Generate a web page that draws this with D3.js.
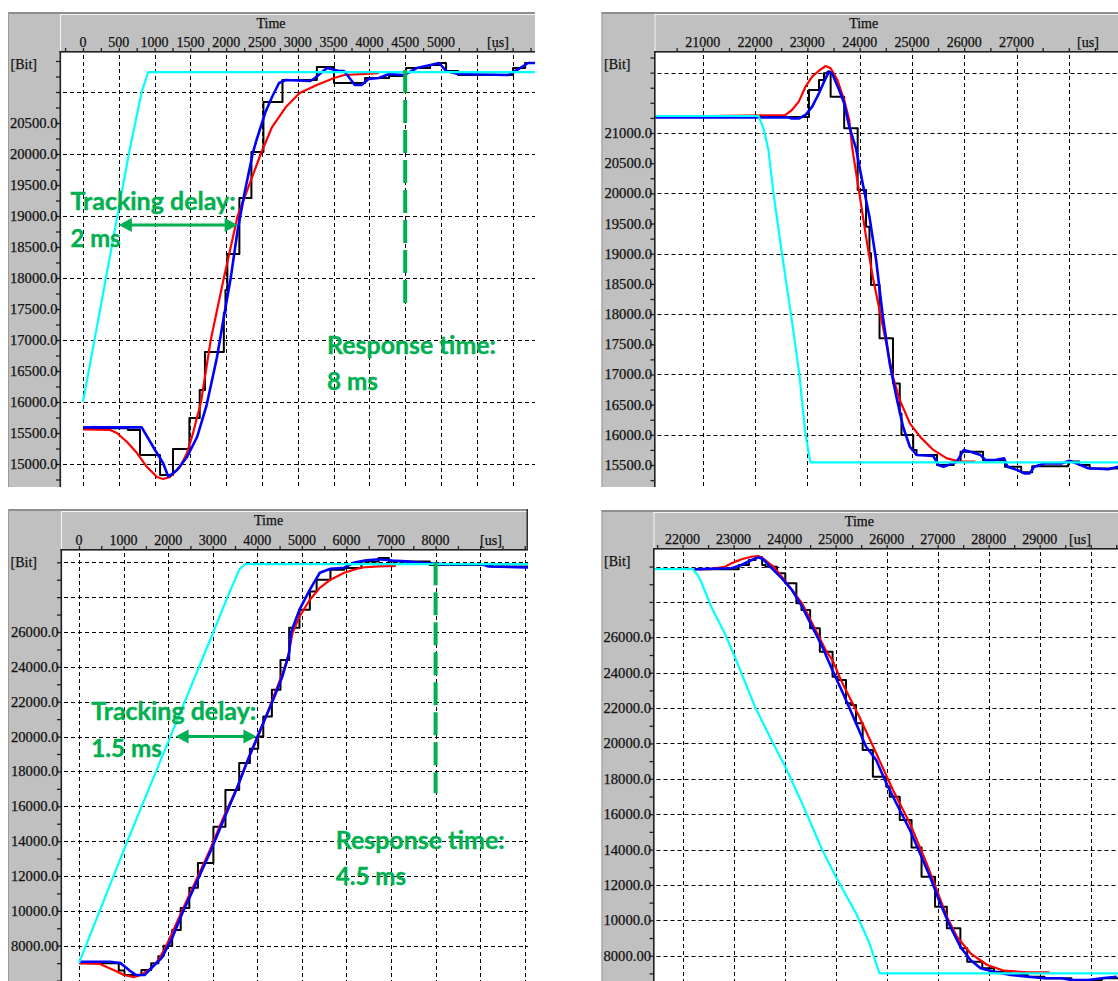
<!DOCTYPE html>
<html><head><meta charset="utf-8">
<script src="https://cdn.jsdelivr.net/npm/d3@7"></script>
<style>body{margin:0;background:#fff}svg{display:block}</style>
</head><body>
<script>
// ---------------- DATA ----------------
// Panel 1 (top-left): time [us], position [Bit]
const p1XLabels = [0,500,1000,1500,2000,2500,3000,3500,4000,4500,5000];
const p1YLabels = [15000,15500,16000,16500,17000,17500,18000,18500,19000,19500,20000,20500];
const p1Cyan = [[0,16000],[650,20060],[820,21000],[910,21320],[6400,21320]];
const p1Red = [[0,15560],[377,15548],[475,15500],[615,15355],[754,15177],[894,14951],[1034,14790],[1118,14758],[1215,14790],[1355,14951],[1453,15177],[1537,15500],[1648,16000],[1784,17000],[1967,18000],[2160,19000],[2482,20000],[2640,20435],[2833,20758],[3026,20984],[3266,21113],[3506,21226],[3652,21274],[4132,21306]];
const p1Blue = [[0,15590],[820,15590],[1006,15226],[1118,15016],[1192,14795],[1313,14903],[1453,15113],[1593,15435],[1727,15951],[1872,16726],[1967,17371],[2063,18000],[2160,18774],[2256,19371],[2375,20032],[2424,20226],[2543,20661],[2640,20919],[2738,21145],[2833,21194],[3171,21177],[3241,21226],[3339,21323],[3409,21387],[3576,21339],[3646,21339],[3723,21226],[3796,21113],[3892,21113],[3988,21210],[4132,21226],[4275,21290],[4470,21274],[4565,21323],[4662,21387],[4853,21436],[4973,21468],[5071,21339],[5239,21290],[5937,21274],[6105,21387],[6217,21468],[6400,21468]];
const p1Black = [[0,15575],[629,15550],[796,15145],[1076,14823],[1257,15242],[1486,15742],[1630,16193],[1703,16806],[1967,17435],[1990,17806],[2016,18387],[2184,19290],[2352,20032],[2520,20839],[2786,21194],[3266,21403],[3506,21145],[3940,21226],[4275,21258],[4512,21387],[4848,21436],[4998,21468],[5071,21339],[5239,21274],[6007,21387],[6175,21468],[6400,21468]];
const p1Delay = [500, 2160, 18855];      // from t, to t, level
const p1Response = [4500, 21355, 17580]; // t, from level, to level

// Panel 2 (top-right)
const p2XLabels = [21000,22000,23000,24000,25000,26000,27000];
const p2YLabels = [15500,16000,16500,17000,17500,18000,18500,19000,19500,20000,20500,21000];
const p2Cyan = [[20000,21282],[22063,21282],[22159,21083],[22256,20718],[22352,20000],[22512,19012],[22686,18000],[22847,17000],[22964,16000],[23059,15545],[30000,15545]];
const p2Red = [[20000,21268],[22577,21298],[22705,21381],[22836,21519],[22964,21767],[23092,21933],[23222,22032],[23350,22110],[23445,22072],[23575,21878],[23704,21547],[23801,21215],[23864,20718],[23994,20000],[24122,19282],[24250,18619],[24380,18067],[24509,17515],[24637,16962],[24767,16576],[24960,16190],[25153,15970],[25409,15750],[25667,15610],[25925,15555],[26214,15555]];
const p2Blue = [[20000,21258],[22641,21258],[22705,21240],[22836,21240],[22964,21298],[23092,21436],[23222,21658],[23350,21906],[23413,22016],[23478,21977],[23608,21712],[23704,21492],[23801,21104],[23929,20750],[24057,20166],[24187,19613],[24315,18896],[24444,17956],[24574,17184],[24702,16631],[24830,16134],[24960,15802],[25088,15665],[25409,15648],[25507,15500],[25602,15470],[25860,15555],[25988,15747],[26118,15720],[26312,15665],[26407,15580],[26568,15580],[26761,15610],[26826,15470],[27019,15415],[27147,15360],[27245,15360],[27340,15470],[27533,15525],[27856,15525],[28017,15570],[28178,15515],[28371,15445],[28757,15430],[28939,15470],[29900,15470]];
const p2Black = [[20000,21265],[23030,21712],[23222,21878],[23318,21989],[23383,22016],[23445,21602],[23704,21078],[23962,20055],[24122,19448],[24187,19006],[24218,18481],[24380,17598],[24637,16852],[24767,16355],[24800,15996],[25024,15747],[25088,15665],[25480,15500],[25800,15555],[25930,15720],[26360,15580],[26780,15470],[27090,15380],[27300,15480],[27990,15560],[28200,15500],[28400,15440],[29900,15440]];

// Panel 3 (bottom-left)
const p3XLabels = [0,1000,2000,3000,4000,5000,6000,7000,8000];
const p3YLabels = [8000,10000,12000,14000,16000,18000,20000,22000,24000,26000];
const p3Cyan = [[0,7000],[1085,14000],[2050,20000],[3015,26000],[3330,28000],[3600,29600],[3730,29900],[10500,29900]];
const p3Red = [[0,7000],[469,6950],[776,6607],[1009,6320],[1240,6200],[1394,6320],[1625,6722],[1780,7180],[1935,7870],[2090,8730],[2320,10050],[2630,11777],[2937,13500],[3246,15400],[3556,17120],[3789,18670],[4020,20000],[4251,21530],[4484,23080],[4675,24400],[4791,25960],[4946,26880],[5179,27850],[5403,28530],[5641,29000],[5950,29400],[6336,29700],[6722,29760],[7107,29790]];
const p3Blue = [[0,7080],[699,7080],[930,7000],[1121,6600],[1278,6320],[1471,6320],[1625,6720],[1856,7300],[2090,8440],[2320,9880],[2630,11600],[2937,13330],[3246,15230],[3556,17120],[3789,18670],[4020,20100],[4327,21930],[4560,23430],[4715,24800],[4753,25960],[4946,27280],[5179,28430],[5403,29400],[5641,29630],[5950,29690],[6181,29990],[6412,30100],[6722,30170],[7031,30100],[7331,30050],[7802,29940],[8266,29890],[9035,29890],[9192,29760],[10044,29700],[10500,29700]];
const p3Black = [[0,7000],[892,6580],[1020,6320],[1400,6600],[1620,7000],[1780,7400],[1897,8000],[2090,8900],[2282,10170],[2475,11320],[2668,12750],[3015,14820],[3285,16940],[3594,18490],[3834,19300],[4020,20000],[4134,21150],[4327,22680],[4520,24400],[4715,26250],[4946,27270],[5179,28320],[5331,29000],[5641,29570],[5950,29670],[6336,30040],[6722,30240],[6950,30040],[7870,29850],[9260,29760],[10500,29760]];
const p3Delay = [2166, 3980, 20000];
const p3Response = [8000, 30000, 16750];

// Panel 4 (bottom-right)
const p4XLabels = [22000,23000,24000,25000,26000,27000,28000,29000];
const p4YLabels = [8000,10000,12000,14000,16000,18000,20000,22000,24000,26000];
const p4Cyan = [[21400,29850],[22198,29850],[22296,29520],[22363,29142],[22561,27729],[22825,26226],[23023,24902],[23419,22076],[23782,19950],[24013,18684],[24342,16615],[24738,13975],[25003,12466],[25399,10396],[25663,8700],[25861,7005],[30600,7005]];
const p4Red = [[22231,29850],[22527,29850],[22825,29990],[22956,30180],[23154,30410],[23352,30555],[23486,30595],[23617,30370],[23782,29990],[23946,29425],[24144,28673],[24342,27920],[24540,26790],[24738,25660],[24805,25280],[24936,24716],[25134,23398],[25465,21511],[25795,19442],[26124,17368],[26455,15485],[26784,13223],[26982,11714],[27180,10205],[27378,9074],[27643,8136],[27972,7474],[28301,7152],[28764,7061],[29193,7061]];
const p4Blue = [[22231,29843],[22956,29900],[23154,30086],[23352,30370],[23486,30520],[23584,30408],[23684,30086],[23848,29617],[23946,29335],[24144,28673],[24342,27730],[24540,26600],[24738,25468],[24936,24150],[25203,22455],[25399,21137],[25597,19815],[25795,19063],[25993,17746],[26257,16237],[26455,15106],[26653,13789],[26851,12466],[27049,10962],[27247,9639],[27445,8509],[27643,7757],[27841,7288],[28104,7096],[28435,6909],[28764,6813],[29093,6722],[29424,6722],[29622,6626],[29952,6626],[30217,6722],[30512,6813]];
const p4Black = [[22231,29843],[23100,30086],[23300,30370],[23430,30520],[23560,30086],[23625,29990],[23850,29617],[24013,29050],[24230,27920],[24330,27543],[24500,26508],[24690,25185],[24940,23772],[25040,23586],[25203,22268],[25300,22172],[25399,21137],[25530,19630],[25730,18119],[25993,17553],[26060,16988],[26257,15671],[26488,14120],[26684,12466],[26949,10770],[27180,9549],[27445,8418],[27580,7660],[27875,7288],[28104,7096],[28435,6909],[28764,6813],[29093,6722],[29622,6626],[30217,6722],[30600,6722]];

// ---------------- DRAWING ----------------
const SERIF = "'Liberation Serif','Times New Roman',serif";
const GREEN = "#00b050";
const svg = d3.select("body").append("svg").attr("width",1118).attr("height",981);
const defs = svg.append("defs");

function serifText(sel, size){
  return sel.attr("font-family",SERIF).attr("font-size",size).attr("fill","#111")
    .attr("stroke","#111").attr("stroke-width",0.25);
}

function drawPanel(p){
  const f = p.frame;
  const x = d3.scaleLinear().domain(p.xd).range(p.xr);
  const y = d3.scaleLinear().domain(p.yd).range(p.yr);
  const g = svg.append("g");
  // frame background
  g.append("rect").attr("x",f.l).attr("y",f.t).attr("width",f.r-f.l).attr("height",f.b-f.t).attr("fill","#c0c0c0");
  g.append("rect").attr("x",f.pl).attr("y",f.pt).attr("width",f.r-f.pl).attr("height",f.b-f.pt).attr("fill","#ffffff");
  g.append("rect").attr("x",f.l).attr("y",f.t).attr("width",f.r-f.l).attr("height",2).attr("fill","#8e8e8e");
  g.append("rect").attr("x",f.l).attr("y",f.t).attr("width",1).attr("height",f.b-f.t).attr("fill","#9a9a9a");
  g.append("rect").attr("x",f.pl).attr("y",f.t+2).attr("width",f.r-f.pl).attr("height",1).attr("fill","#f4f4f4");
  g.append("rect").attr("x",f.pl).attr("y",f.t+2).attr("width",1).attr("height",f.pt-f.t-2).attr("fill","#f4f4f4");
  if (p.rightBorder) g.append("rect").attr("x",f.r-1.5).attr("y",f.t).attr("width",1.5).attr("height",f.pt-f.t).attr("fill","#303030");

  // clip
  const cid = "clip"+p.id;
  defs.append("clipPath").attr("id",cid).append("rect")
    .attr("x",f.pl+1).attr("y",f.pt+1).attr("width",f.r-f.pl-1).attr("height",f.b-f.pt-1);
  const pg = g.append("g").attr("clip-path",`url(#${cid})`);

  // grid
  const inX = v => x(v) > f.pl+1 && x(v) < f.r;
  const inY = v => y(v) > f.pt+1 && y(v) < f.b+1;
  pg.selectAll("line.gx").data(p.xGrid.filter(inX)).join("line")
    .attr("x1",d=>Math.round(x(d))+0.5).attr("x2",d=>Math.round(x(d))+0.5)
    .attr("y1",f.pt+3).attr("y2",f.b)
    .attr("stroke","#000").attr("stroke-width",1).attr("stroke-dasharray","4,3");
  pg.selectAll("line.gy").data(p.yGrid.filter(inY)).join("line")
    .attr("y1",d=>Math.round(y(d))+0.5).attr("y2",d=>Math.round(y(d))+0.5)
    .attr("x1",f.pl+3).attr("x2",f.r)
    .attr("stroke","#000").attr("stroke-width",1).attr("stroke-dasharray","4,3");

  // series
  const ln = d3.line().x(d=>x(d[0])).y(d=>y(d[1]));
  const lnStep = d3.line().x(d=>x(d[0])).y(d=>y(d[1])).curve(d3.curveStepAfter);
  pg.append("path").datum(p.black).attr("d",lnStep).attr("fill","none").attr("stroke","#000").attr("stroke-width",2).attr("stroke-linejoin","round");
  pg.append("path").datum(p.red).attr("d",ln).attr("fill","none").attr("stroke","#ff0000").attr("stroke-width",2.2).attr("stroke-linejoin","round");
  pg.append("path").datum(p.blue).attr("d",ln).attr("fill","none").attr("stroke","#0000ff").attr("stroke-width",2.6).attr("stroke-linejoin","round");
  pg.append("path").datum(p.cyan).attr("d",ln).attr("fill","none").attr("stroke","#00ffff").attr("stroke-width",2.2).attr("stroke-linejoin","round");

  // axes (tick marks)
  const xt = g.append("g").attr("transform",`translate(0,${f.pt})`)
    .call(d3.axisTop(x).tickValues(p.xMinor.filter(v=>x(v)>f.pl+2 && x(v)<f.r-1)).tickSize(4).tickFormat(""));
  xt.select(".domain").remove();
  xt.selectAll("line").attr("stroke","#202020").attr("stroke-width",1.3);
  const yt = g.append("g").attr("transform",`translate(${f.pl},0)`)
    .call(d3.axisLeft(y).tickValues(p.yMinor.filter(v=>y(v)>f.pt+2 && y(v)<f.b)).tickSize(4).tickFormat(""));
  yt.select(".domain").remove();
  yt.selectAll("line").attr("stroke","#202020").attr("stroke-width",1.3);
  g.append("rect").attr("x",f.pl-0.5).attr("y",f.pt-1).attr("width",f.r-f.pl+0.5).attr("height",1.6).attr("fill","#202020");
  g.append("rect").attr("x",f.pl-0.5).attr("y",f.pt-1).attr("width",1.6).attr("height",f.b-f.pt+1).attr("fill","#202020");

  // header texts
  serifText(g.append("text").attr("x",p.timeX).attr("y",f.t+15.5).attr("text-anchor","middle"),14).text("Time");
  serifText(g.selectAll("text.xl").data(p.xLabels).join("text")
    .attr("x",d=>x(d)).attr("y",f.pt-5).attr("text-anchor","middle"),14).text(d=>d);
  serifText(g.append("text").attr("x",p.usX).attr("y",f.pt-5).attr("text-anchor","middle"),14).text("[us]");
  serifText(g.append("text").attr("x",f.l+2.5).attr("y",f.pt+16.5),14).text("[Bit]");
  serifText(g.selectAll("text.yl").data(p.yLabels).join("text")
    .attr("x",f.pl-2.5).attr("y",d=>y(d)).attr("dy","0.36em").attr("text-anchor","end"),14)
    .attr("textLength",47.5).attr("lengthAdjust","spacingAndGlyphs")
    .text(d=>d.toPrecision(6));

  // annotations
  if (p.delay){
    const [t1,t2,lv] = p.delay;
    const ax1 = x(t1), ax2 = x(t2), ay = y(lv), hl = 13, hw = 7;
    g.append("line").attr("x1",ax1+hl-1).attr("x2",ax2-hl+1).attr("y1",ay).attr("y2",ay)
      .attr("stroke",GREEN).attr("stroke-width",3);
    g.append("path").attr("d",`M${ax1},${ay}L${ax1+hl},${ay-hw}L${ax1+hl},${ay+hw}Z`).attr("fill",GREEN);
    g.append("path").attr("d",`M${ax2},${ay}L${ax2-hl},${ay-hw}L${ax2-hl},${ay+hw}Z`).attr("fill",GREEN);
  }
  if (p.response){
    const [rt,v1,v2] = p.response;
    g.append("line").attr("x1",x(rt)).attr("x2",x(rt)).attr("y1",y(v1)).attr("y2",y(v2))
      .attr("stroke",GREEN).attr("stroke-width",4).attr("stroke-dasharray","23,7");
  }
  (p.notes||[]).forEach(n=>{
    g.append("text").attr("x",n.x).attr("y",n.y)
      .attr("font-family","Lato,'Open Sans',sans-serif").attr("font-weight",700).attr("font-size",25)
      .attr("fill",GREEN).attr("stroke",GREEN).attr("stroke-width",0.4)
      .attr("textLength",n.w).attr("lengthAdjust","spacingAndGlyphs").text(n.s);
  });
}

drawPanel({
  id:1, frame:{l:8,t:12,r:535,b:487,pl:60,pt:52},
  xd:[0,6000], xr:[83,512.6], yd:[15000,20000], yr:[464,154],
  xGrid:d3.range(0,7001,500), xMinor:d3.range(-250,7001,250),
  yGrid:d3.range(14000,22001,1000), yMinor:d3.range(14500,21751,250),
  xLabels:p1XLabels, yLabels:p1YLabels, timeX:271, usX:498,
  cyan:p1Cyan, red:p1Red, blue:p1Blue, black:p1Black,
  delay:p1Delay, response:p1Response,
  notes:[{x:70.6,y:210,w:165,s:"Tracking delay:"},{x:70.6,y:247,w:50,s:"2 ms"},
         {x:327,y:354,w:169,s:"Response time:"},{x:327,y:390,w:51,s:"8 ms"}]
});
drawPanel({
  id:2, frame:{l:601.5,t:12,r:1118,b:487,pl:654.5,pt:52},
  xd:[21000,28000], xr:[702.8,1068.8], yd:[15500,21000], yr:[465,133],
  xGrid:d3.range(20000,31001,1000), xMinor:d3.range(20000,31001,500),
  yGrid:d3.range(15000,23001,1000), yMinor:d3.range(15000,22501,250),
  xLabels:p2XLabels, yLabels:p2YLabels, timeX:863.7, usX:1088,
  cyan:p2Cyan, red:p2Red, blue:p2Blue, black:p2Black
});
drawPanel({
  id:3, frame:{l:8,t:509,r:528,b:981,pl:61,pt:550}, rightBorder:true,
  xd:[0,8000], xr:[79,435.6], yd:[8000,26000], yr:[945.7,632],
  xGrid:d3.range(0,11001,1000), xMinor:d3.range(-500,11001,500),
  yGrid:d3.range(6000,32001,2000), yMinor:d3.range(5000,31001,1000),
  xLabels:p3XLabels, yLabels:p3YLabels, timeX:268.6, usX:491,
  cyan:p3Cyan, red:p3Red, blue:p3Blue, black:p3Black,
  delay:p3Delay, response:p3Response,
  notes:[{x:91.3,y:720,w:165,s:"Tracking delay:"},{x:91.3,y:757,w:70.5,s:"1.5 ms"},
         {x:335.7,y:849,w:169,s:"Response time:"},{x:335.7,y:885,w:70.3,s:"4.5 ms"}]
});
drawPanel({
  id:4, frame:{l:601.5,t:510,r:1118,b:981,pl:653.5,pt:549},
  xd:[22000,30000], xr:[682.6,1090.7], yd:[8000,26000], yr:[955.7,637.3],
  xGrid:d3.range(21000,32001,1000), xMinor:d3.range(21000,32001,500),
  yGrid:d3.range(6000,32001,2000), yMinor:d3.range(5000,31001,1000),
  xLabels:p4XLabels, yLabels:p4YLabels, timeX:859.4, usX:1080,
  cyan:p4Cyan, red:p4Red, blue:p4Blue, black:p4Black
});
</script>
</body></html>
